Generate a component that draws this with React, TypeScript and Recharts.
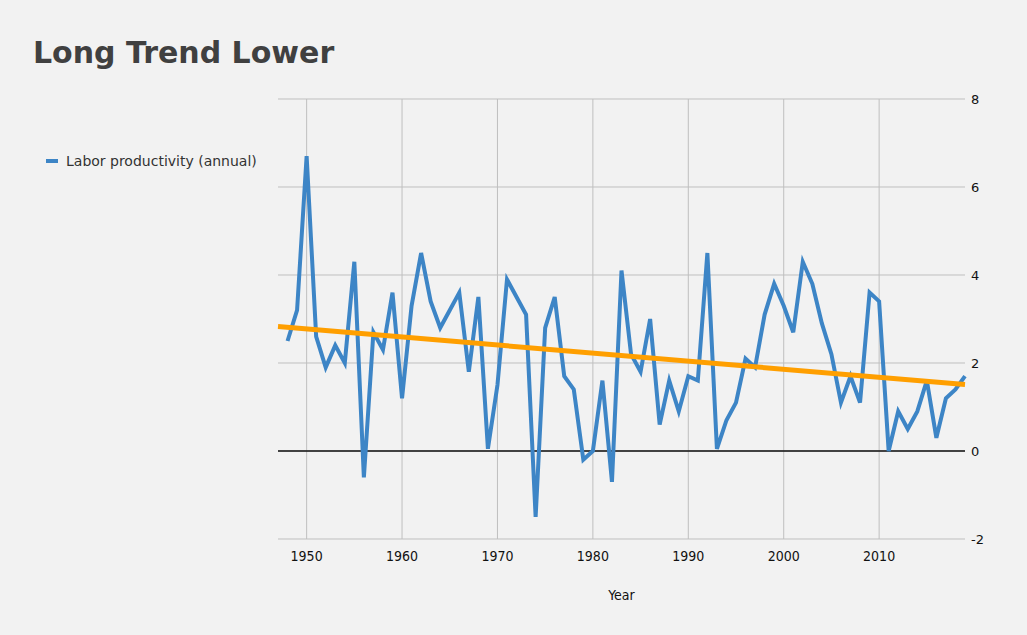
import React from 'react';
import { LineChart, Line, XAxis, YAxis, CartesianGrid, ReferenceLine } from 'recharts';

const years = [
  1948, 1949, 1950, 1951, 1952, 1953, 1954, 1955, 1956, 1957, 1958, 1959,
  1960, 1961, 1962, 1963, 1964, 1965, 1966, 1967, 1968, 1969, 1970, 1971,
  1972, 1973, 1974, 1975, 1976, 1977, 1978, 1979, 1980, 1981, 1982, 1983,
  1984, 1985, 1986, 1987, 1988, 1989, 1990, 1991, 1992, 1993, 1994, 1995,
  1996, 1997, 1998, 1999, 2000, 2001, 2002, 2003, 2004, 2005, 2006, 2007,
  2008, 2009, 2010, 2011, 2012, 2013, 2014, 2015, 2016, 2017, 2018, 2019,
];

const productivity = [
  2.5, 3.2, 6.7, 2.6, 1.9, 2.4, 2.0, 4.3, -0.6, 2.7, 2.3, 3.6,
  1.2, 3.3, 4.5, 3.4, 2.8, 3.2, 3.6, 1.8, 3.5, 0.05, 1.5, 3.9,
  3.5, 3.1, -1.5, 2.8, 3.5, 1.7, 1.4, -0.2, 0.0, 1.6, -0.7, 4.1,
  2.2, 1.8, 3.0, 0.6, 1.6, 0.9, 1.7, 1.6, 4.5, 0.05, 0.7, 1.1,
  2.1, 1.9, 3.1, 3.8, 3.3, 2.7, 4.3, 3.8, 2.9, 2.2, 1.1, 1.7,
  1.1, 3.6, 3.4, 0.0, 0.9, 0.5, 0.9, 1.6, 0.3, 1.2, 1.4, 1.7,
];

// trend line end points
const trendYears = [1947, 2019];
const trendValues = [2.83, 1.51];

const xTicks = [1950, 1960, 1970, 1980, 1990, 2000, 2010];
const yTicks = [-2, 0, 2, 4, 6, 8];

const data = years.map((year, i) => ({ year, value: productivity[i] }));
const trendData = trendYears.map((year, i) => ({ year, trend: trendValues[i] }));

const narrowFont = 'Liberation Sans Narrow, DejaVu Sans Condensed, DejaVu Sans';

export default function App() {
  return (
    <div style={{ position: 'absolute', left: 0, top: 0, width: 1027, height: 635, background: '#f2f2f2' }}>
      <div
        style={{
          position: 'absolute',
          left: 33,
          top: 38,
          fontFamily: 'DejaVu Sans',
          fontWeight: 700,
          fontSize: 30,
          lineHeight: '30px',
          color: '#404040',
        }}
      >
        Long Trend Lower
      </div>
      {/* legend */}
      <div
        style={{
          position: 'absolute',
          left: 46,
          top: 153,
          display: 'flex',
          alignItems: 'center',
          fontFamily: 'DejaVu Sans',
          fontSize: 14,
          color: '#333',
        }}
      >
        <span style={{ display: 'inline-block', width: 12, height: 4, background: '#3d85c6', marginRight: 8 }} />
        <span>Labor productivity (annual)</span>
      </div>
      <LineChart width={1027} height={635} margin={{ top: 99, right: 22, left: 278, bottom: 26 }}>
        <CartesianGrid stroke="#bfbfbf" strokeWidth={1} vertical={false} />
        {xTicks.map((t) => (
          <ReferenceLine key={t} x={t} stroke="#bfbfbf" strokeWidth={1} />
        ))}
        <XAxis
          dataKey="year"
          type="number"
          domain={[1947, 2019]}
          ticks={xTicks}
          allowDuplicatedCategory={false}
          axisLine={false}
          tickLine={false}
          height={70}
          tick={{ fontFamily: narrowFont, fontSize: 14, fill: '#111' }}
          tickMargin={6}
          label={{
            value: 'Year',
            position: 'insideBottom',
            offset: 9,
            style: { fontFamily: narrowFont, fontSize: 14, fill: '#111' },
          }}
        />
        <YAxis
          orientation="right"
          type="number"
          domain={[-2, 8]}
          ticks={yTicks}
          axisLine={false}
          tickLine={false}
          tickMargin={0}
          width={40}
          tick={{ fontFamily: 'DejaVu Sans', fontSize: 13, fill: '#111' }}
        />
        <ReferenceLine y={0} stroke="#111" strokeWidth={1.5} />
        <Line
          data={data}
          type="linear"
          dataKey="value"
          stroke="#3d85c6"
          strokeWidth={4}
          dot={false}
          activeDot={false}
          isAnimationActive={false}
          name="Labor productivity (annual)"
        />
        <Line
          data={trendData}
          type="linear"
          dataKey="trend"
          stroke="#ff9f00"
          strokeWidth={5}
          dot={false}
          activeDot={false}
          legendType="none"
          isAnimationActive={false}
        />
      </LineChart>
    </div>
  );
}
